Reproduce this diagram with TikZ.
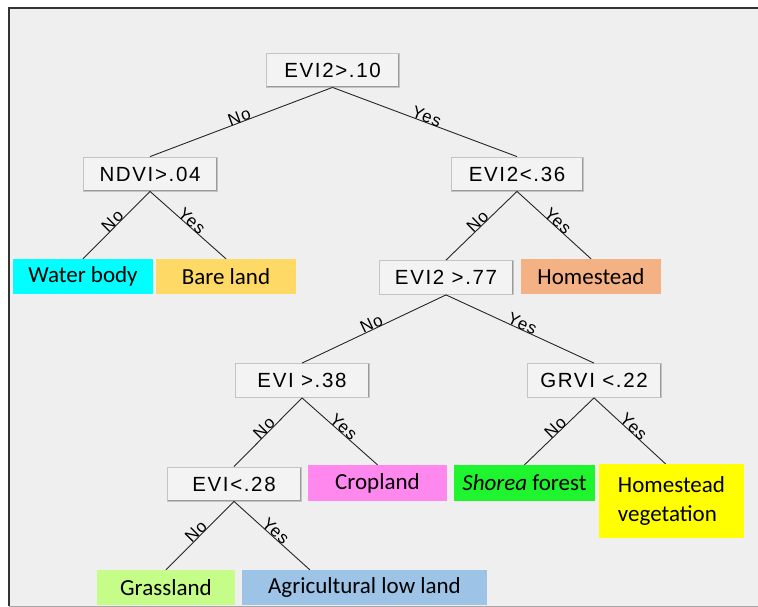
\documentclass[tikz,border=0pt]{standalone}
\usepackage{fontspec}
\setmainfont{Carlito}
\newfontfamily\decfont[LetterSpace=8]{Liberation Sans}
\newfontfamily\labfont[LetterSpace=6]{Liberation Sans}
\definecolor{bgc}{HTML}{EFEFEF}
\definecolor{decfill}{HTML}{F3F3F3}
\definecolor{decborder}{HTML}{C4C4C4}
\definecolor{decshadow}{HTML}{9A9A9A}
\definecolor{cwater}{HTML}{00FFFF}
\definecolor{cbare}{HTML}{FFD966}
\definecolor{chome}{HTML}{F4B183}
\definecolor{ccrop}{HTML}{FF88EE}
\definecolor{cshorea}{HTML}{1EF52E}
\definecolor{chveg}{HTML}{FFFF00}
\definecolor{cgrass}{HTML}{C6FC88}
\definecolor{cagri}{HTML}{9DC3E6}
\begin{document}
\begin{tikzpicture}[x=1pt,y=-1pt,
  dec/.style={draw=decborder, fill=decfill, line width=0.8pt, minimum width=134pt,
    minimum height=34pt, inner sep=0pt, font=\decfont\fontsize{20.5}{20.5}\selectfont,
    path picture={\draw[decshadow, line width=2pt]
      (path picture bounding box.south west) -- (path picture bounding box.south east)
      -- (path picture bounding box.north east);}},
  leaf/.style={fill=#1, inner sep=0pt, minimum height=35pt,
    font=\fontsize{23}{29}\selectfont},
  edge/.style={draw=black!85, line width=0.9pt},
  lab/.style={sloped, anchor=base, inner sep=0pt, pos=0.5,
    font=\labfont\fontsize{17}{17}\selectfont}
]
\useasboundingbox (0,0) rectangle (758,607);
\fill[white] (0,0) rectangle (758,607);
\fill[bgc] (9,8) rectangle (758,606);
\draw[black!35, line width=1pt] (9,606) -- (758,606);
\draw[black!80, line width=1.6pt] (9,606) -- (9,8) -- (758,8);

% decision nodes
\node[dec, minimum width=133pt] (r)  at (332.5,70)  {EVI2>.10};
\node[dec] (n1) at (150,174)   {NDVI>.04};
\node[dec, minimum width=132pt] (n2) at (517,174)   {EVI2<.36};
\node[dec] (n3) at (446,277.5) {EVI2 >.77};
\node[dec] (n4) at (302,380.5) {EVI >.38};
\node[dec] (n5) at (594,380.5) {GRVI <.22};
\node[dec] (n6) at (234,484)   {EVI<.28};

% leaves
\node[leaf=cwater, minimum width=140pt] (water) at (83,276.5)  {Water body};
\node[leaf=cbare,  minimum width=140pt] (bare)  at (226,276.5) {Bare land};
\node[leaf=chome,  minimum width=140pt] (home)  at (591,276.5) {Homestead};
\node[leaf=ccrop,  minimum width=139pt, minimum height=36pt] (crop) at (377.5,483) {Cropland};
\node[leaf=cshorea,minimum width=141pt, minimum height=36pt] (shorea) at (524.5,483) {\textit{Shorea} forest};
\node[leaf=chveg,  minimum width=145pt, minimum height=74pt, align=left] (hveg) at (671.5,501) {Homestead\\vegetation};
\node[leaf=cgrass, minimum width=138pt] (grass) at (166,587.5) {Grassland};
\node[leaf=cagri,  minimum width=245pt] (agri)  at (364.5,587.5) {Agricultural low land};

% connectors
\draw[edge] (r.south) -- node[lab]{No} (n1.north);
\draw[edge] (r.south) -- node[lab]{Yes} (n2.north);
\draw[edge] (n1.south) -- node[lab]{No} (water.north);
\draw[edge] (n1.south) -- node[lab]{Yes} (bare.north);
\draw[edge] (n2.south) -- node[lab]{No} (n3.north);
\draw[edge] (n2.south) -- node[lab]{Yes} (home.north);
\draw[edge] (n3.south) -- node[lab]{No} (n4.north);
\draw[edge] (n3.south) -- node[lab]{Yes} (n5.north);
\draw[edge] (n4.south) -- node[lab]{No} (n6.north);
\draw[edge] (n4.south) -- node[lab]{Yes} (crop.north);
\draw[edge] (n5.south) -- node[lab]{No} (shorea.north);
\draw[edge] (n5.south) -- node[lab]{Yes} ([xshift=-6pt]hveg.north);
\draw[edge] (n6.south) -- node[lab]{No} (grass.north);
\draw[edge] (n6.south) -- node[lab]{Yes} ([xshift=68pt]agri.north west);
\end{tikzpicture}
\end{document}
